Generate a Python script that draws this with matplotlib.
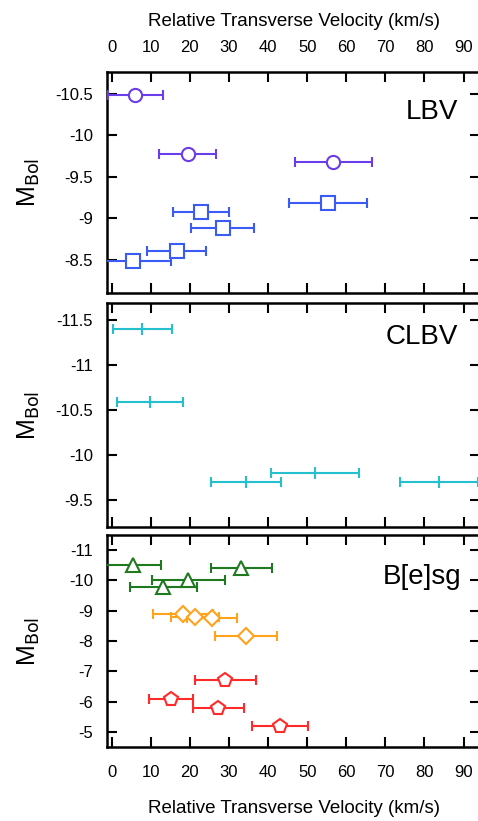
import matplotlib
matplotlib.use("Agg")
import matplotlib.pyplot as plt

plt.rcParams['font.family'] = ['Liberation Sans', 'DejaVu Sans']
plt.rcParams['axes.unicode_minus'] = False

# ---- data ----
lbv_circ_v = [6.0, 19.4, 56.7]
lbv_circ_m = [-10.48, -9.77, -9.68]
lbv_circ_e = [7.0, 7.2, 9.8]

lbv_sq_v = [55.4, 22.8, 28.4, 16.6, 5.5]
lbv_sq_m = [-9.18, -9.08, -8.88, -8.60, -8.49]
lbv_sq_e = [10.0, 7.2, 8.0, 7.5, 9.6]

clbv_v = [7.8, 9.8, 34.3, 52.0, 83.8]
clbv_m = [-11.40, -10.59, -9.70, -9.80, -9.70]
clbv_e = [7.5, 8.4, 9.0, 11.3, 10.0]

bsg_tri_v = [5.5, 33.2, 19.6, 13.2]
bsg_tri_m = [-10.51, -10.40, -10.01, -9.77]
bsg_tri_e = [7.0, 7.8, 9.3, 8.6]

bsg_dia_v = [18.3, 21.3, 25.6, 34.3]
bsg_dia_m = [-8.89, -8.79, -8.76, -8.18]
bsg_dia_e = [7.7, 6.2, 6.4, 8.0]

bsg_pen_v = [29.0, 15.2, 27.3, 43.0]
bsg_pen_m = [-6.70, -6.09, -5.78, -5.20]
bsg_pen_e = [7.8, 5.7, 6.6, 7.1]

xticks = [0, 10, 20, 30, 40, 50, 60, 70, 80, 90]
yt_top = [-10.5, -10, -9.5, -9, -8.5]
yt_mid = [-11.5, -11, -10.5, -10, -9.5]
yt_bot = [-11, -10, -9, -8, -7, -6, -5]

xlabel = "Relative Transverse Velocity (km/s)"
ylabel = r"M$_{\mathrm{Bol}}$"

W, H = 478, 821
fig = plt.figure(figsize=(W / 100, H / 100), dpi=100)

def px_axes(x0, y0, x1, y1):
    return fig.add_axes([x0 / W, 1 - y1 / H, (x1 - x0) / W, (y1 - y0) / H])

ax1 = px_axes(107, 72, 480, 293)
ax2 = px_axes(107, 303, 480, 527)
ax3 = px_axes(107, 535, 480, 747)

def fmt(v):
    return '%g' % v

for ax, yt, ylim in [(ax1, yt_top, (-8.1, -10.76)),
                     (ax2, yt_mid, (-9.2, -11.69)),
                     (ax3, yt_bot, (-4.5, -11.5))]:
    ax.set_xlim(-1.2, 94.2)
    ax.set_ylim(*ylim)
    ax.set_xticks(xticks)
    ax.set_yticks(yt)
    ax.set_yticklabels([fmt(v) for v in yt])
    ax.set_xticklabels([str(v) for v in xticks])
    for sp in ax.spines.values():
        sp.set_linewidth(1.8)
    ax.tick_params(direction='in', length=7, width=1.5, top=True, right=True,
                   labelsize=12, pad=10)
    ax.set_ylabel(ylabel, fontsize=18)
    ax.yaxis.set_label_coords(-0.175, 0.5)

ax1.tick_params(axis='x', labeltop=True, labelbottom=False, pad=12)
ax2.tick_params(axis='x', labeltop=False, labelbottom=False)
ax3.tick_params(axis='x', labeltop=False, labelbottom=True, pad=13)
ax1.set_xlabel(xlabel, fontsize=13.5, labelpad=10)
ax1.xaxis.set_label_position('top')
ax3.set_xlabel(xlabel, fontsize=13.5, labelpad=14)

def eb(ax, v, m, e, color, marker, ms=10):
    ax.errorbar(v, m, xerr=e, fmt=marker, color=color, mfc='white', mec=color,
                ms=ms, mew=1.5, elinewidth=1.5, capsize=3.5, capthick=1.5,
                clip_on=True, zorder=3)

eb(ax1, lbv_circ_v, lbv_circ_m, lbv_circ_e, '#6a3de8', 'o', 9.5)
eb(ax1, lbv_sq_v, lbv_sq_m, lbv_sq_e, '#3a5cf5', 's', 9.5)
eb(ax2, clbv_v, clbv_m, clbv_e, '#26bfd0', '+', 9)
eb(ax3, bsg_tri_v, bsg_tri_m, bsg_tri_e, '#1f7a1f', '^', 10)
eb(ax3, bsg_dia_v, bsg_dia_m, bsg_dia_e, '#ffa31a', 'D', 8.5)
eb(ax3, bsg_pen_v, bsg_pen_m, bsg_pen_e, '#ff2a2a', 'p', 10.5)

ax1.text(0.941, 0.817, "LBV", transform=ax1.transAxes, ha='right', va='center', fontsize=20)
ax2.text(0.941, 0.846, "CLBV", transform=ax2.transAxes, ha='right', va='center', fontsize=20)
ax3.text(0.949, 0.80, "B[e]sg", transform=ax3.transAxes, ha='right', va='center', fontsize=20)

fig.savefig("out.png", dpi=100)
